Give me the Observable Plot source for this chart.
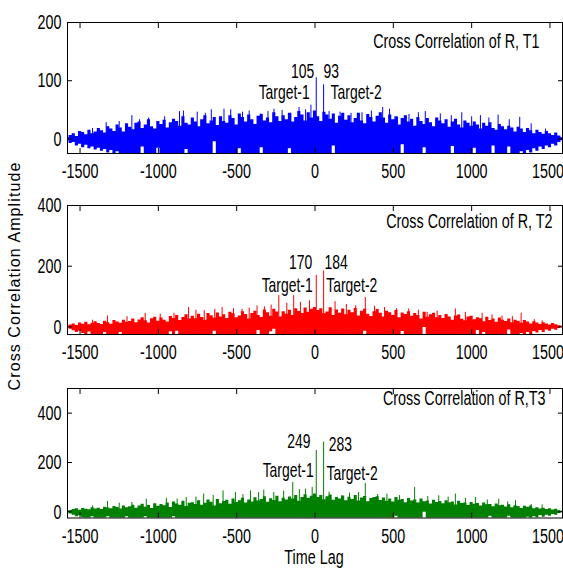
<!DOCTYPE html>
<html><head><meta charset="utf-8">
<script src="https://cdn.jsdelivr.net/npm/d3@7"></script>
<script src="https://cdn.jsdelivr.net/npm/@observablehq/plot@0.6"></script>
<style>
body{margin:0;background:#fff;}
#wrap{position:relative;width:563px;height:568px;overflow:hidden;background:#fff;}
.panel{position:absolute;left:0;}
#ylab{position:absolute;left:15px;top:276px;transform:translate(-50%,-50%) rotate(-90deg);font:16px "Liberation Sans",Arial,sans-serif;line-height:1;letter-spacing:1.1px;white-space:nowrap;color:#000;}
#xlab{position:absolute;left:314px;top:558px;transform:translate(-50%,-50%) scale(0.82,1.18);font:17.5px "Liberation Sans",Arial,sans-serif;line-height:1;white-space:nowrap;color:#000;}
</style></head>
<body><div id="wrap"><div id="ylab">Cross Correlation Amplitude</div><div id="xlab">Time Lag</div></div>
<script>
// ---------- data ----------
const lags = d3.range(-1580, 1581, 20); // sample grid, 159 lags
const xTicks = [-1500, -1000, -500, 0, 500, 1000, 1500];
const peakLags = [8, 55];

// T1 (blue)
const upper1 = [2,6,9,4,13,11,7,15,9,12, 18,14,10,21,17,13,24,19,12,26, 20,16,27,29,18,24,33,21,17,30,
  25,32,19,28,34,30,22,38,27,24, 36,29,21,33,40,26,31,37,23,38, 30,27,40,35,24,43,37,29,41,33,
  25,39,42,31,36,28,45,38,30,40, 33,44,29,37,47,41,31,45,36,48, 38,30,46,41,34,43,27,39,44,32,
  40,28,35,44,31,26,42,37,29,39, 45,36,27,41,33,38,24,35,40,29, 34,22,37,30,25,35,28,21,36,31,
  26,33,20,29,34,24,19,31,27,22, 29,24,17,27,22,28,18,15,25,21, 16,22,19,12,20,17,11,18,14,9,
  15,11,8,13,9,6,10,5,2];
const lower1 = [-3,-8,-6,-12,-9,-15,-11,-17,-14,-19, -16,-21,-18,-24,-20,-30,-22,-30,-30,-25,
  -30,-30,-30,-30,-14,-30,-30,-30,-30,-16, -30,-30,-30,-30,-30,-30,-30,-30,-18,-30,
  -30,-30,-30,-30,-30,-30,-30,-5,-30,-30, -30,-30,-30,-30,-30,-17,-30,-30,-30,-30,
  -30,-30,-15,-30,-30,-30,-30,-30,-30,-30, -30,-17,-30,-30,-30,-30,-30,-30,-30,-30,
  -30,-30,-30,-30,-30,-12,-30,-30,-30,-30, -30,-30,-30,-30,-30,-30,-30,-30,-30,-30,
  -30,-30,-30,-30,-30,-30,-30,-10,-30,-30, -30,-30,-30,-30,-15,-30,-30,-30,-30,-30,
  -30,-30,-30,-13,-30,-30,-30,-30,-30,-30, -16,-30,-30,-30,-30,-30,-12,-30,-30,-30,
  -30,-14,-30,-30,-30,-22,-26,-20,-24,-17, -21,-14,-18,-12,-15,-9,-12,-6,-3];
const spikeLags1 = [-1333,-1169,-1062,-865,-840,-752,-662,-581,-538,-463,-346,-262,-154,-102,-26,300,432,476,527,704,800,937,1056,1169,1307,1472,
  -1420,-1250,-1120,-960,-700,-420,-300,-210,-60,90,160,230,360,600,660,870,1000,1110,1240,1380];
const spikeVals1 = [28,40,36,47,48,46,50,51,50,46,43,51,44,54,58,45,54,51,37,47,43,45,40,41,37,17,
  18,30,33,38,44,48,47,49,50,47,46,44,48,42,45,40,38,36,33,26];
const peakVals1 = [105, 93];

// T2 (red)
const upper2 = [2,6,10,5,13,9,15,7,12,17, 11,8,19,14,9,21,16,12,22,15, 18,26,14,23,30,20,13,27,32,19,
  29,22,16,34,28,38,21,31,40,26, 35,27,42,31,22,44,37,29,46,33, 40,28,48,43,30,36,50,41,26,44,
  52,38,31,56,47,35,58,49,33,50, 42,55,38,60,51,44,62,48,58,64, 54,60,43,49,63,38,56,45,59,40,
  55,47,61,36,52,58,42,34,50,57, 45,33,52,47,38,54,30,46,41,50, 35,44,38,26,48,32,40,45,30,38,
  28,41,33,22,36,39,25,20,33,35, 24,30,27,17,32,21,26,15,29,22, 18,26,14,22,19,12,21,16,10,17,
  13,8,14,10,6,11,7,4,2];
const lower2 = [-3,-8,-13,-18,-14,-22,-30,-17,-30,-30, -30,-30,-18,-30,-30,-30,-30,-18,-30,-30,
  -30,-30,-30,-30,-30,-30,-30,-30,-30,-30, -30,-30,-30,-16,-30,-14,-30,-30,-30,-30,
  -30,-30,-30,-30,-30,-30,-30,-14,-30,-30, -30,-30,-30,-30,-30,-30,-30,-30,-30,-30,
  -30,-12,-30,-30,-30,-16,-8,-30,-30,-30, -30,-30,-30,-30,-30,-30,-30,-30,-30,-30,
  -30,-30,-30,-30,-30,-30,-30,-30,-30,-30, -30,-30,-30,-30,-30,-14,-30,-30,-30,-30,
  -30,-30,-30,-30,-30,-30,-30,-15,-30,-30, -30,-30,-30,-30,-2,-30,-30,-30,-30,-30,
  -30,-30,-30,-30,-30,-30,-30,-30,-30,-30, -30,-12,-30,-18,-30,-30,-30,-30,-30,-30,
  -30,-10,-30,-30,-30,-22,-27,-18,-25,-15, -20,-12,-18,-10,-14,-8,-11,-5,-2];
const spikeLags2 = [-1325,-1084,-988,-807,-707,-593,-466,-370,-323,-231,-136,-93,-35,128,321,444,598,716,896,1067,1194,1316,1450,
  -1420,-1200,-900,-760,-640,-520,-420,-280,-180,200,260,380,520,660,780,960,1130,1260,1400];
const spikeVals2 = [36,45,42,64,53,64,58,69,66,103,103,81,86,83,97,64,59,48,59,45,36,45,20,
  22,34,45,55,58,60,62,72,78,74,70,68,60,55,52,48,40,34,24];
const peakVals2 = [170, 184];

// T3 (green)
const upper3 = [2,5,9,12,6,14,10,8,17,11, 15,9,19,16,12,22,18,11,24,17, 21,27,15,24,31,19,26,14,33,23,
  30,25,36,18,40,32,27,43,22,35, 37,30,45,27,35,48,39,24,50,33, 42,47,31,52,38,45,55,36,48,40,
  57,44,50,61,39,53,46,63,41,55, 48,60,52,66,43,58,69,55,63,72, 58,66,49,61,68,47,58,52,64,45,
  59,50,66,44,56,62,41,54,58,61, 46,56,43,52,40,58,47,50,37,54, 44,48,36,52,41,44,32,47,38,42,
  33,45,37,40,28,43,34,36,26,38, 31,34,24,36,29,30,21,32,25,27, 20,29,17,25,22,14,23,19,24,12,
  17,11,15,9,13,7,10,4,2];
const lower3 = [-3,-9,-14,-20,-16,-25,-30,-30,-20,-30, -30,-30,-30,-20,-30,-30,-30,-30,-30,-20,
  -30,-30,-30,-30,-30,-20,-30,-30,-30,-30, -30,-30,-30,-30,-20,-30,-30,-30,-30,-30,
  -30,-30,-30,-30,-30,-30,-30,-30,-30,-30, -30,-30,-30,-30,-30,-30,-30,-30,-30,-30,
  -30,-30,-30,-30,-30,-30,-30,-30,-30,-30, -30,-30,-30,-30,-30,-30,-30,-30,-30,-30,
  -30,-30,-30,-30,-30,-30,-30,-30,-30,-30, -30,-30,-30,-30,-30,-30,-30,-30,-30,-30,
  -30,-30,-30,-30,-30,-18,-30,-30,-30,-30, -30,-30,-30,-30,-2,-30,-30,-30,-30,-30,
  -30,-30,-30,-30,-30,-30,-30,-30,-30,-30, -30,-30,-30,-30,-30,-18,-30,-30,-30,-30,
  -30,-18,-30,-30,-30,-30,-30,-22,-30,-20, -26,-15,-22,-14,-18,-11,-14,-7,-3];
const spikeLags3 = [-1325,-1169,-1077,-949,-822,-711,-587,-508,-412,-327,-263,-142,-61,-18,171,278,321,459,636,790,896,1024,1173,1280,1450,
  -1420,-1250,-880,-760,-650,-460,-360,-200,-100,90,220,400,540,720,850,960,1100,1230,1380];
const spikeVals3 = [42,38,51,55,58,72,85,78,85,88,78,119,92,99,65,78,115,72,99,65,72,58,51,45,28,
  24,35,52,60,66,70,78,84,90,80,76,70,66,62,60,55,48,40,30];
const peakVals3 = [249, 283];

const titles = ["Cross Correlation of R, T1", "Cross Correlation of R, T2", "Cross Correlation of R,T3"];

// ---------- drawing ----------
const wrap = document.getElementById("wrap");
const fmt = d => String(d);

function panel(cfg) {
  const data = lags.map((lag, i) => ({lag, upper: cfg.upper[i], lower: cfg.lower[i]}));
  const spikes = cfg.spikeLags.map((lag, i) => ({lag, v: cfg.spikeVals[i]}));
  const peaks = peakLags.map((lag, i) => ({lag, v: cfg.peakVals[i]}));
  const labelMarks = cfg.labels.map(l => Plot.text([peaks[l.p]], {
    x: "lag", y: "v", text: () => l.t === "v" ? String(peaks[l.p].v) : l.t,
    textAnchor: l.a, lineAnchor: "middle", dx: l.dx, dy: l.dy, fontSize: 17, fill: "black"
  }));
  const innerTicks = xTicks.slice(0, -1);
  const lastTick = xTicks.slice(-1);
  const chart = Plot.plot({
    width: 563, height: cfg.height,
    marginLeft: 67, marginRight: 1, marginTop: 22, marginBottom: cfg.mb,
    x: {domain: [-1580, 1580]},
    y: {domain: cfg.yDomain},
    style: {fontFamily: "'Liberation Sans', Arial, sans-serif", fontSize: "17.5px", color: "black", background: "transparent"},
    marks: [
      Plot.areaY(data, {x: "lag", y1: "lower", y2: "upper", fill: cfg.color, curve: "step", clip: true}),
      Plot.ruleX(spikes, {x: "lag", y1: 0, y2: "v", stroke: cfg.color, strokeWidth: 1, clip: true}),
      Plot.ruleX(peaks, {x: "lag", y1: 0, y2: "v", stroke: cfg.color, strokeWidth: 1}),
      Plot.frame({stroke: "black", strokeWidth: 1}),
      Plot.axisX({ticks: innerTicks, anchor: "bottom", tickSize: -5, tickPadding: 16, tickFormat: fmt, label: null, fontSize: 17.5}),
      Plot.axisX({ticks: lastTick, anchor: "bottom", tickSize: -5, tickPadding: 16, tickFormat: fmt, label: null, fontSize: 17.5, textAnchor: "end", dx: 14}),
      Plot.axisX({ticks: xTicks, anchor: "top", tickSize: -5, tickFormat: () => "", label: null}),
      Plot.axisY({ticks: cfg.yTicks, anchor: "left", tickSize: -5, tickPadding: 11, tickFormat: fmt, label: null, fontSize: 17.5}),
      Plot.axisY({ticks: cfg.yTicks, anchor: "right", tickSize: -5, tickFormat: () => "", label: null}),
      Plot.text([cfg.title], {frameAnchor: "top-right", textAnchor: "end", lineAnchor: "middle", dx: cfg.tdx, dy: cfg.tdy, fontSize: 17.5, fill: "black"}),
      ...labelMarks
    ]
  });
  chart.classList.add("panel");
  chart.style.top = cfg.top + "px";
  wrap.appendChild(chart);
}

panel({top: 0, height: 183, mb: 30, upper: upper1, lower: lower1, spikeLags: spikeLags1, spikeVals: spikeVals1,
  peakVals: peakVals1, color: "#0000ff", yDomain: [-25, 200], yTicks: [0, 100, 200], title: titles[0], tdx: -23, tdy: 19,
  labels: [{p:0,t:"v",a:"end",dx:-2,dy:-6.5},{p:1,t:"v",a:"start",dx:0,dy:-13.4},
           {p:0,t:"Target-1",a:"end",dx:-6.5,dy:14.6},{p:1,t:"Target-2",a:"start",dx:7,dy:7.6}]});
panel({top: 183, height: 183, mb: 32, upper: upper2, lower: lower2, spikeLags: spikeLags2, spikeVals: spikeVals2,
  peakVals: peakVals2, color: "#ff0000", yDomain: [-25, 400], yTicks: [0, 200, 400], title: titles[1], tdx: -10, tdy: 16,
  labels: [{p:0,t:"v",a:"end",dx:-4,dy:-13},{p:1,t:"v",a:"start",dx:1,dy:-8.8},
           {p:0,t:"Target-1",a:"end",dx:-3.5,dy:10.3},{p:1,t:"Target-2",a:"start",dx:2.6,dy:14.5}]});
panel({top: 366, height: 183, mb: 31.5, upper: upper3, lower: lower3, spikeLags: spikeLags3, spikeVals: spikeVals3,
  peakVals: peakVals3, color: "#008000", yDomain: [-25, 500], yTicks: [0, 200, 400], title: titles[2], tdx: -17, tdy: 10,
  labels: [{p:0,t:"v",a:"end",dx:-5.8,dy:-8.9},{p:1,t:"v",a:"start",dx:5.2,dy:2.1},
           {p:0,t:"Target-1",a:"end",dx:-2.5,dy:19.7},{p:1,t:"Target-2",a:"start",dx:2.9,dy:31.5}]});

// condensed, tall glyphs like the reference: scale about each text's anchor (x) and vertical centre
document.querySelectorAll("#wrap svg text").forEach(t => {
  const b = t.getBBox();
  if (!b.height) return;
  const cy = b.y + b.height / 2;
  const tr = t.getAttribute("transform") || "";
  t.setAttribute("transform", `${tr} translate(0,${cy}) scale(0.82,1.18) translate(0,${-cy})`);
});
</script>
</body></html>
